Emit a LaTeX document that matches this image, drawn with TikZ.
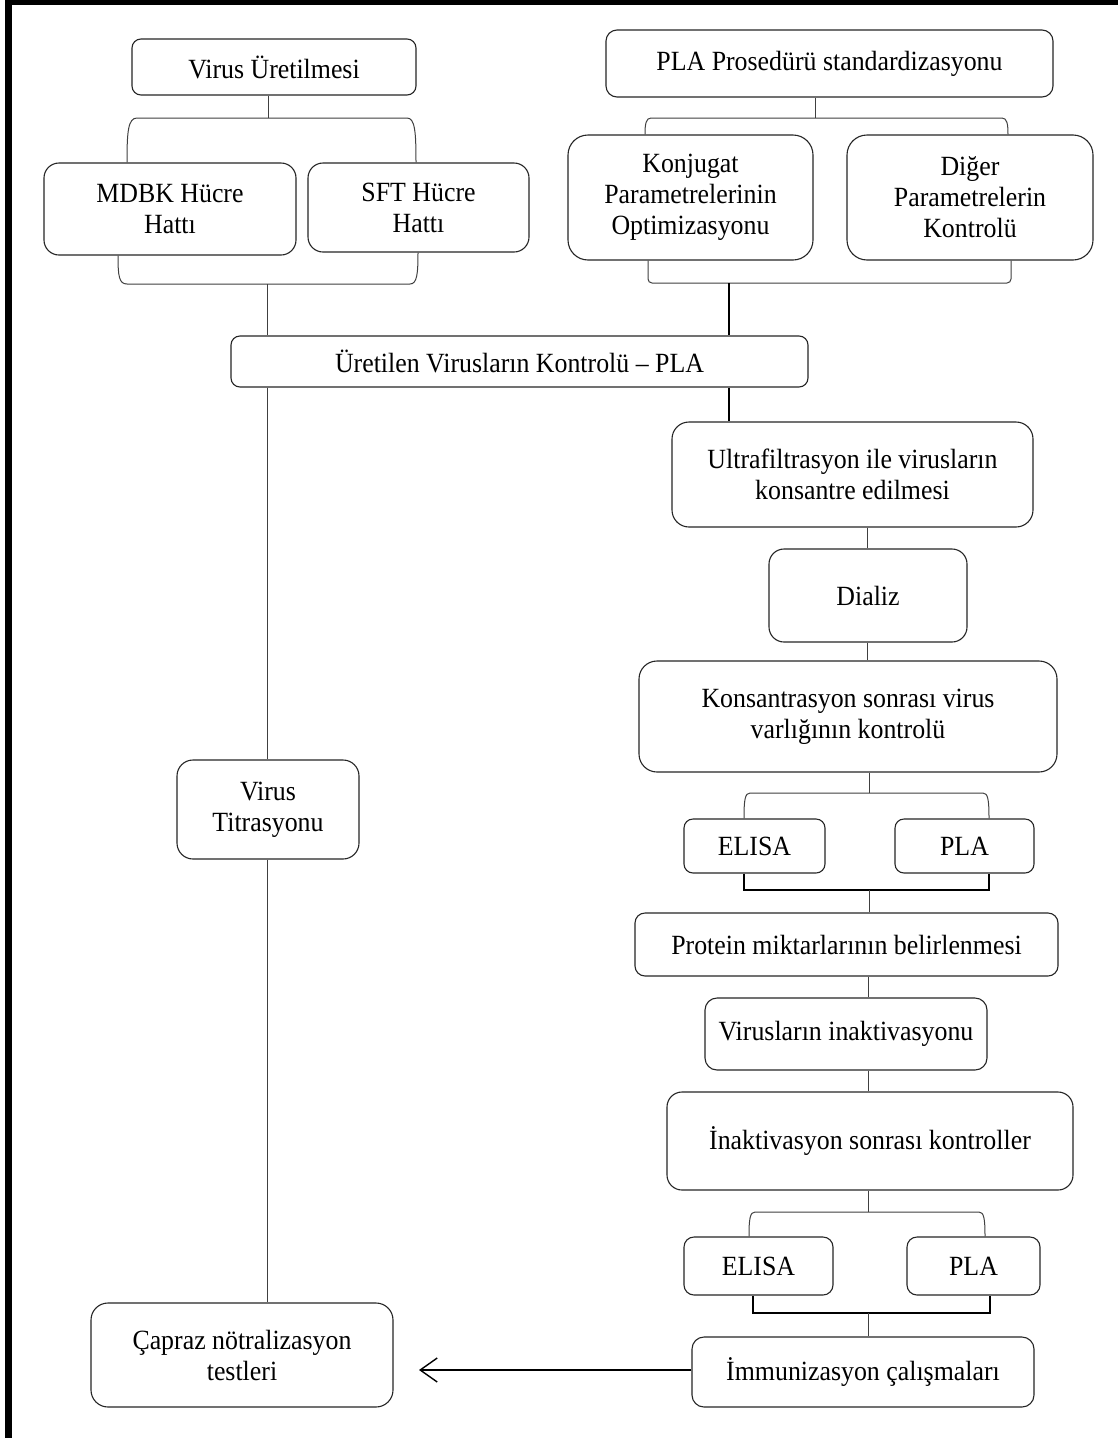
\documentclass[tikz,border=0pt]{standalone}
\usepackage{fontspec}
\setmainfont{Liberation Serif}[FakeStretch=0.93]
\usetikzlibrary{arrows.meta}
\begin{document}
\begin{tikzpicture}[x=1pt,y=-1pt,
  box/.style={draw=black!85, line width=1.1pt, rounded corners=#1, align=center, inner sep=0pt,
    font=\fontsize{27.8}{31}\selectfont},
  box/.default=15pt,
  ln/.style={draw=black!75, line width=1pt},
  thk/.style={draw=black, line width=1.9pt},
  arr/.style={draw=black, line width=1.4pt, -{Straight Barb[length=17pt,width=24pt,line width=1.4pt]}}]
\useasboundingbox (0,0) rectangle (1118,1438);
\fill[white] (0,0) rectangle (1118,1438);
% frame
\fill[black] (5,0) rectangle (12,1438);
\fill[black] (5,0) rectangle (1118,5);

% boxes
\node[box=9pt, minimum width=284pt, minimum height=56pt] (vu) at (274,67) {Virus Üretilmesi};
\node[box=15pt, minimum width=252pt, minimum height=92pt] (mdbk) at (170,209) {MDBK Hücre\\Hattı};
\node[box=15pt, minimum width=221pt, minimum height=89pt] (sft) at (418.5,207.5) {SFT Hücre\\Hattı};
\node[box=11pt, minimum width=447pt, minimum height=67pt] (pla) at (829.5,63.5) {PLA Prosedürü standardizasyonu};
\node[box=20pt, minimum width=245pt, minimum height=125pt] (konj) at (690.5,197.5) {Konjugat\\Parametrelerinin\\Optimizasyonu};
\node[box=20pt, minimum width=246pt, minimum height=125pt] (diger) at (970,197.5) {Diğer\\Parametrelerin\\Kontrolü};
\node[box=9pt, minimum width=577pt, minimum height=51pt] (uret) at (519.5,361.5) {Üretilen Virusların Kontrolü – PLA};
\node[box=17pt, minimum width=361pt, minimum height=105pt] (ultra) at (852.5,474.5) {Ultrafiltrasyon ile virusların\\konsantre edilmesi};
\node[box=15pt, minimum width=198pt, minimum height=93pt] (dializ) at (868,595.5) {Dializ};
\node[box=18pt, minimum width=418pt, minimum height=111pt] (kons) at (848,716.5) {Konsantrasyon sonrası virus\\varlığının kontrolü};
\node[box=9pt, minimum width=141pt, minimum height=54pt] (elisaa) at (754.5,846) {ELISA};
\node[box=9pt, minimum width=139pt, minimum height=54pt] (plaa) at (964.5,846) {PLA};
\node[box=10pt, minimum width=423pt, minimum height=63pt] (prot) at (846.5,944.5) {Protein miktarlarının belirlenmesi};
\node[box=12pt, minimum width=282pt, minimum height=72pt] (inakt) at (846,1034) {Virusların inaktivasyonu};
\node[box=15pt, minimum width=406pt, minimum height=98pt] (inakk) at (870,1141) {İnaktivasyon sonrası kontroller};
\node[box=10pt, minimum width=149pt, minimum height=58pt] (elisab) at (758.5,1266) {ELISA};
\node[box=10pt, minimum width=133pt, minimum height=58pt] (plab) at (973.5,1266) {PLA};
\node[box=12pt, minimum width=342pt, minimum height=70pt] (imm) at (863,1372) {İmmunizasyon çalışmaları};
\node[box=17pt, minimum width=302pt, minimum height=104pt] (capraz) at (242,1355) {Çapraz nötralizasyon\\testleri};
\node[box=16pt, minimum width=182pt, minimum height=99pt] (titr) at (268,809.5) {Virus\\Titrasyonu};

% named junction points
\coordinate (jvu) at (268,118);
\coordinate (jmd) at (267,284);
\coordinate (jpla) at (815,118);
\coordinate (jkd) at (729,283);
\coordinate (jka) at (869,793);
\coordinate (jkb) at (869,890);
\coordinate (jia) at (868,1212);
\coordinate (jib) at (868,1313);
\coordinate (tip) at (419,1370);

% left column
\draw[ln] (vu.south -| jvu) -- (jvu);
\draw[ln] (mdbk.north -| 127,0) .. controls (127,132) and (128,118) .. (137,118) -- (407,118)
   .. controls (415,118) and (416,132) .. (sft.north -| 416,0);
\draw[ln] (mdbk.south -| 118,0) .. controls (118,276) and (119,284) .. (127,284) -- (410,284)
   .. controls (417,284) and (418,274) .. (sft.south -| 418,0);
\draw[ln] (jmd) -- (uret.north -| jmd);
\draw[ln] (uret.south -| jmd) -- (titr.north -| jmd);
\draw[ln] (titr.south -| jmd) -- (capraz.north -| jmd);

% right top
\draw[ln] (pla.south -| jpla) -- (jpla);
\draw[ln] (konj.north -| 645,0) .. controls (645,124) and (646,118) .. (651,118) -- (1002,118)
   .. controls (1007,118) and (1008,124) .. (diger.north -| 1008,0);
\draw[ln, rounded corners=4pt] (konj.south -| 648,0) -- (648,283) -- (1011,283) -- (diger.south -| 1011,0);
\draw[thk] (jkd) -- (uret.north -| jkd);
\draw[thk] (uret.south -| jkd) -- (ultra.north -| jkd);

% right column
\draw[ln] (ultra.south -| 867,0) -- (dializ.north -| 867,0);
\draw[ln] (dializ.south -| 867,0) -- (kons.north -| 867,0);
\draw[ln] (kons.south -| jka) -- (jka);
\draw[ln] (elisaa.north -| 744,0) .. controls (744,800) and (745,793) .. (750,793) -- (983,793)
   .. controls (988,793) and (989,800) .. (plaa.north -| 989,0);
\draw[thk] (elisaa.south -| 744,0) -- (744,890) -- (989,890) -- (plaa.south -| 989,0);
\draw[ln] (jkb) -- (prot.north -| jkb);
\draw[ln] (prot.south -| 868,0) -- (inakt.north -| 868,0);
\draw[ln] (inakt.south -| 868,0) -- (inakk.north -| 868,0);
\draw[ln] (inakk.south -| jia) -- (jia);
\draw[ln] (elisab.north -| 749,0) .. controls (749,1219) and (750,1212) .. (755,1212) -- (979,1212)
   .. controls (984,1212) and (985,1219) .. (plab.north -| 985,0);
\draw[thk] (elisab.south -| 753,0) -- (753,1313) -- (990,1313) -- (plab.south -| 990,0);
\draw[ln] (jib) -- (imm.north -| jib);

% arrow
\draw[arr] (imm.west |- tip) -- (tip);
\end{tikzpicture}
\end{document}
